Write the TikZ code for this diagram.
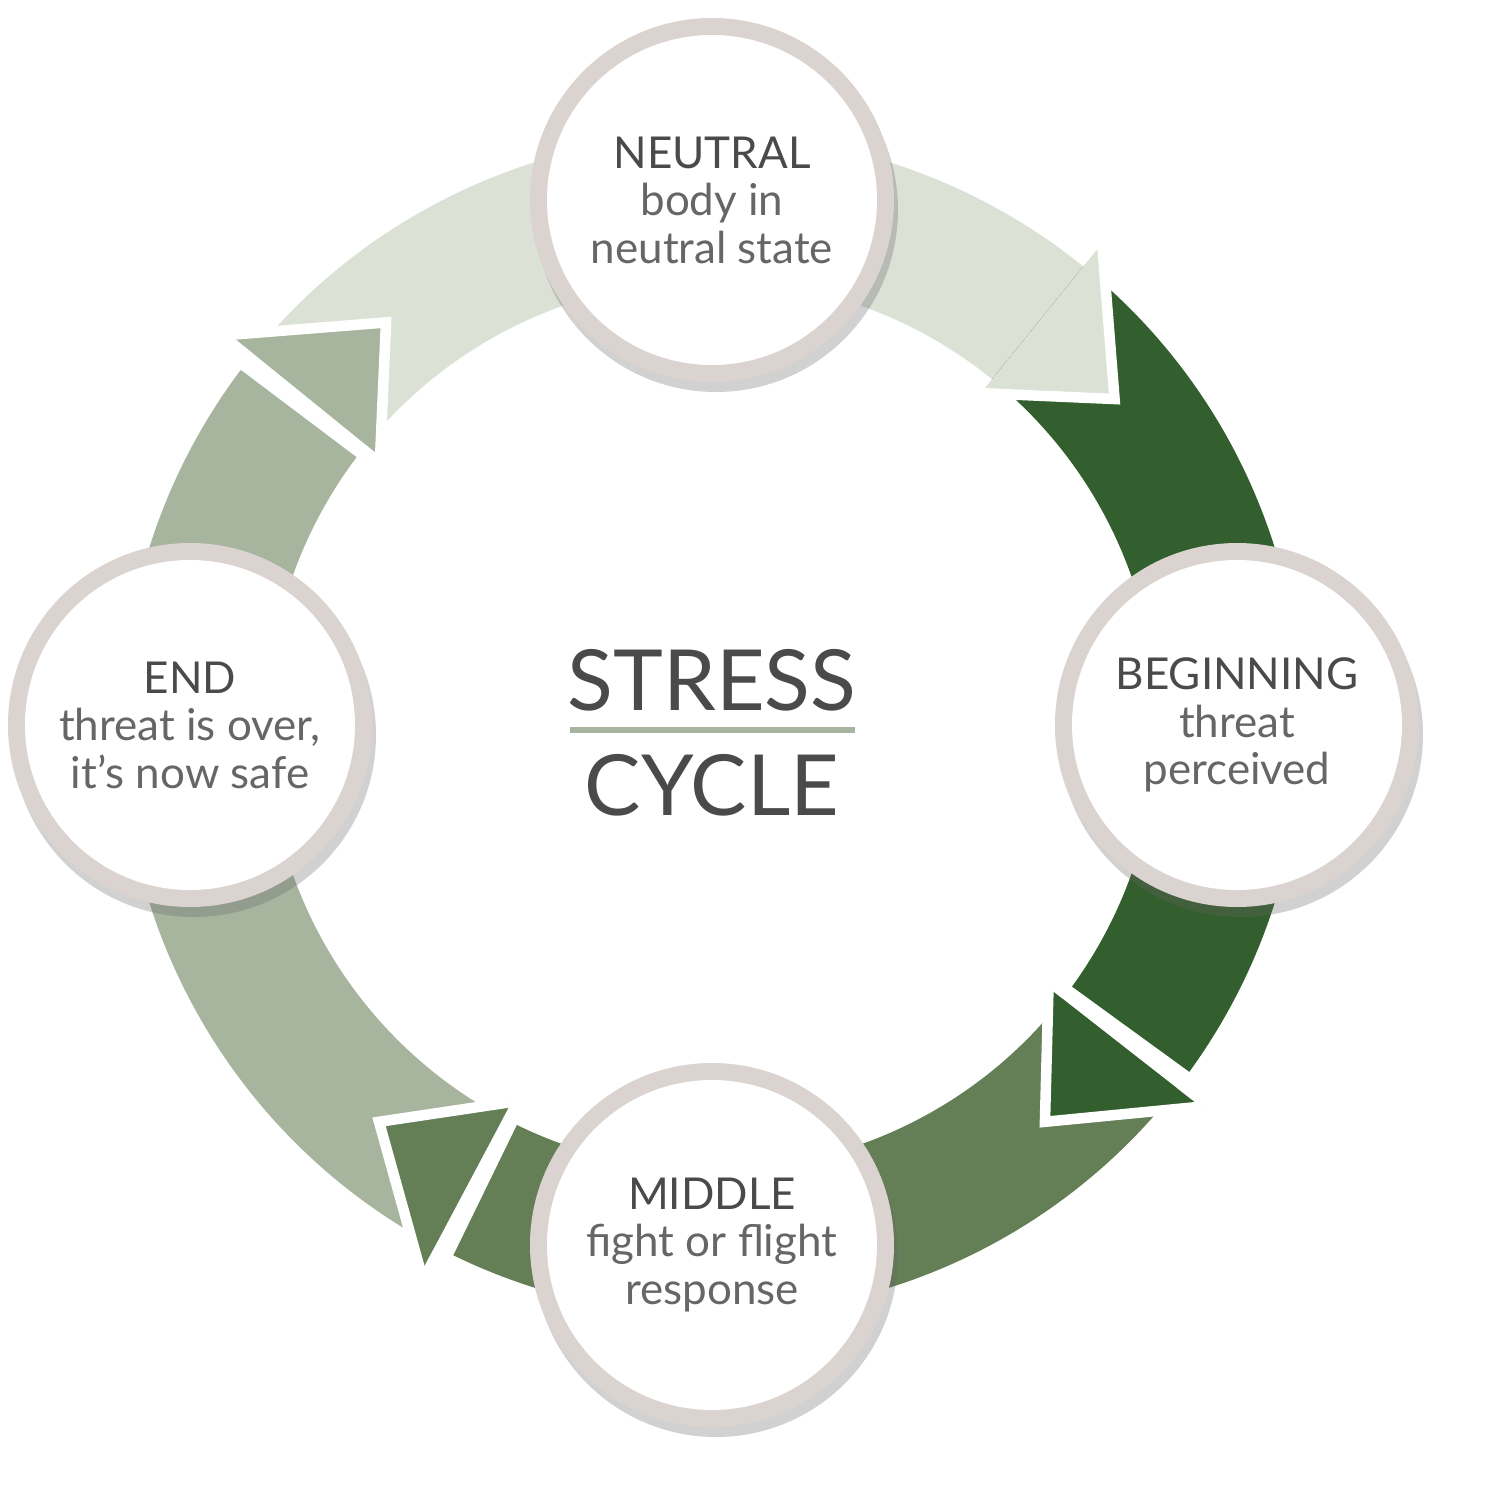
\documentclass[tikz,border=0pt]{standalone}
\usepackage{fontspec}
\setmainfont{Lato}
\usetikzlibrary{shadows}
\definecolor{cA}{HTML}{DCE1D6}
\definecolor{cB}{HTML}{335E2E}
\definecolor{cC}{HTML}{647E55}
\definecolor{cD}{HTML}{A7B59E}
\definecolor{ring}{HTML}{DAD3D0}
\definecolor{txt}{HTML}{4A4A4A}
\definecolor{txt2}{HTML}{666666}
\tikzset{
  stage/.style={circle,fill=ring,minimum size=3.64cm,inner sep=0pt,
    drop shadow={shadow xshift=0.04cm,shadow yshift=-0.1cm,opacity=0.3,fill=black!60}},
  stageinner/.style={circle,fill=white,minimum size=3.3cm,inner sep=0pt,align=center,
    text=txt,font=\fontsize{12.5}{13.5}\selectfont},
  headedge/.style={draw=white,line width=3pt,line join=miter}
}
\newcommand{\arrbody}[3]{\fill[#3] (#1:5.9) arc[start angle=#1,end angle=#2,radius=5.9] -- (#2:4.45) arc[start angle=#2,end angle=#1,radius=4.45] -- cycle;}
\newcommand{\arrhead}[3]{\fill[#3] (#1:6.2) -- (#2:5.18) -- (#1:4.27) -- cycle;
  \draw[headedge] (#1:6.2) -- (#2:5.18) -- (#1:4.27);}
\begin{document}
\begin{tikzpicture}
\useasboundingbox (-7.12,-7.75) rectangle (7.88,7.25);
\arrbody{141}{49}{cA}
\arrbody{51}{-36}{cB}
\arrbody{-38}{-116}{cC}
\arrbody{-118}{-217}{cD}
\arrhead{51}{39}{cA}
\arrhead{-38}{-50}{cB}
\arrhead{-118}{-130}{cC}
\arrhead{141}{129}{cD}
\node[stage] (n) at (90:5.25) {};
\node[stage] (b) at (0:5.25) {};
\node[stage] (m) at (-90:5.2) {};
\node[stage] (e) at (180:5.22) {};
\node[stageinner] at (n) {NEUTRAL\\{\color{txt2}body in}\\{\color{txt2}neutral state}};
\node[stageinner] at (b) {BEGINNING\\{\color{txt2}threat}\\{\color{txt2}perceived}};
\node[stageinner] at (m) {MIDDLE\\{\color{txt2}fight or flight}\\{\color{txt2}response}};
\node[stageinner] at (e) {END\\{\color{txt2}threat is over,}\\{\color{txt2}it’s now safe}};
\node[text=txt,font=\fontsize{24}{24}\selectfont] (s) at (0,0.45) {STRESS};
\node[text=txt,font=\fontsize{24}{24}\selectfont] (c) at (0,-0.6) {CYCLE};
\draw[cD,line width=1.6pt] (-1.42,-0.05) -- (1.43,-0.05);
\end{tikzpicture}
\end{document}
